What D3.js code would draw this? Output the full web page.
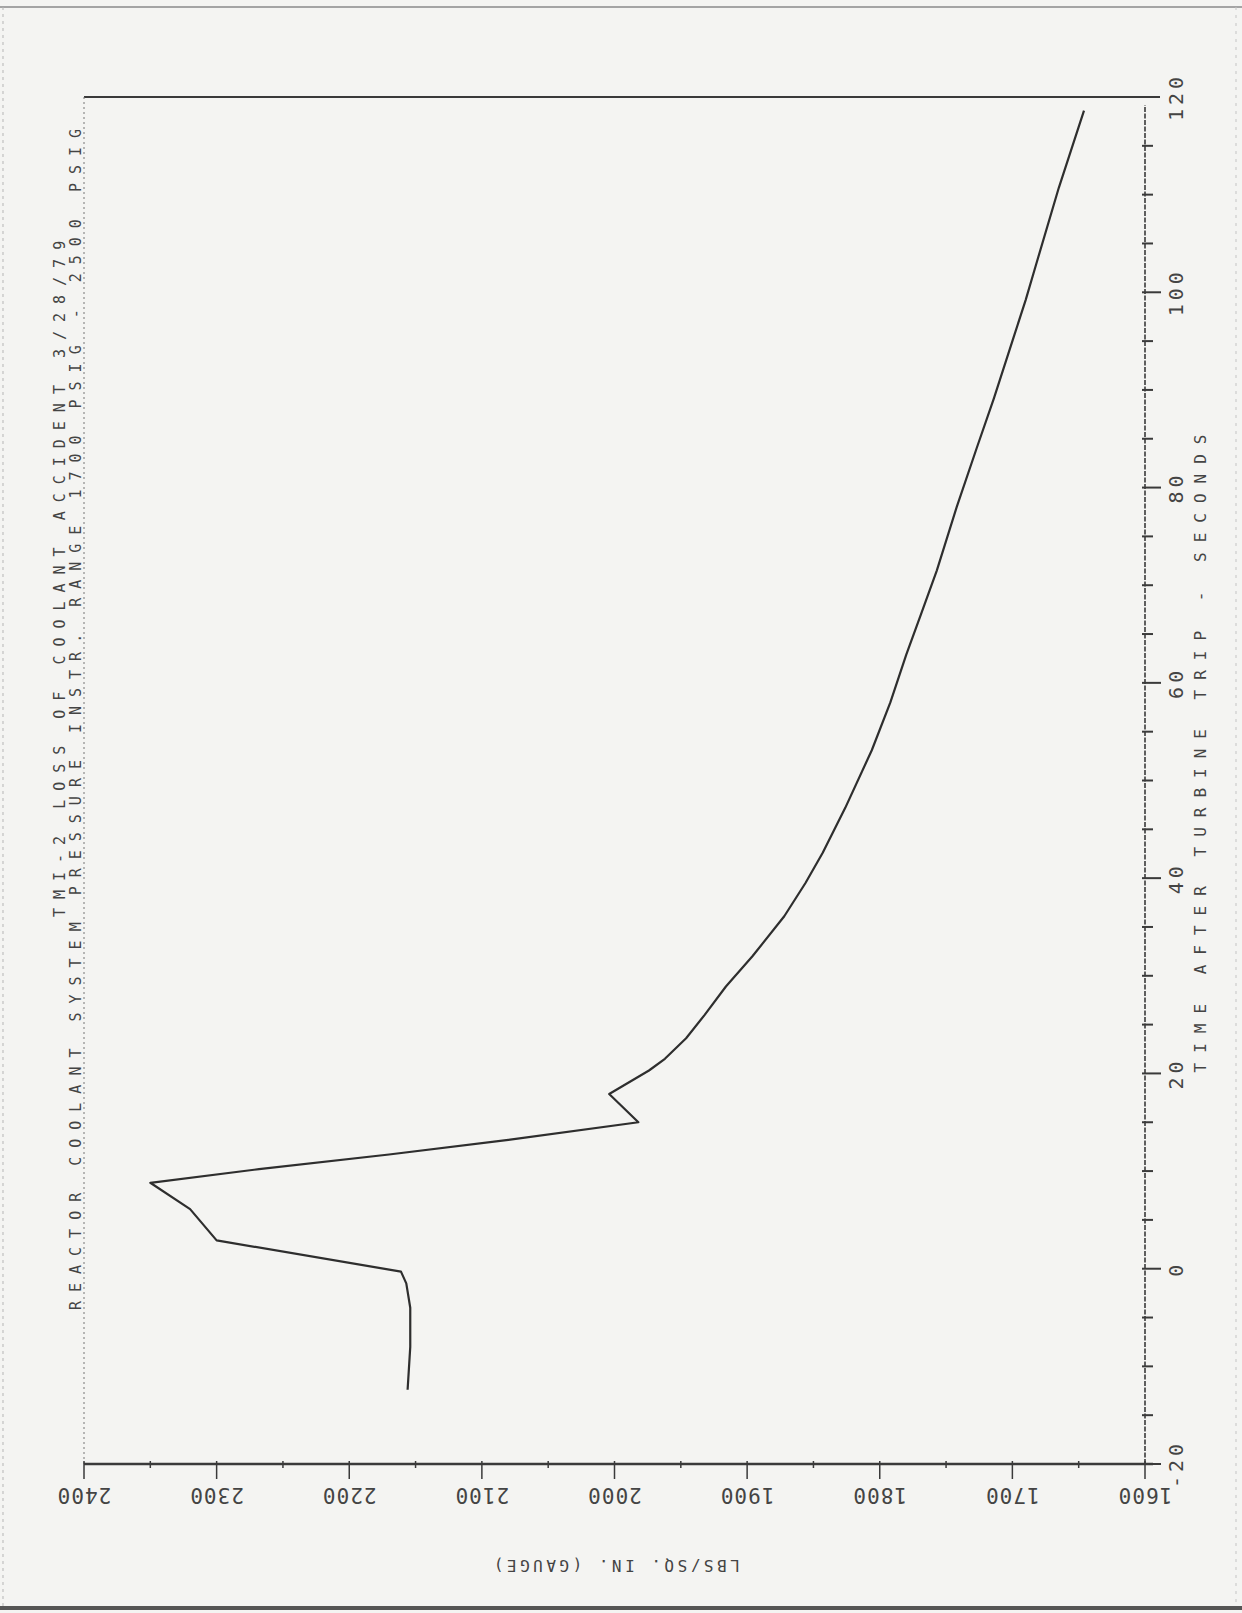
<!DOCTYPE html>
<html>
<head>
<meta charset="utf-8">
<script src="https://cdn.jsdelivr.net/npm/d3@7"></script>
<style>
  body { margin: 0; background: #f4f4f2; }
  svg text { font-family: "DejaVu Sans Mono", monospace; fill: #444; }
</style>
</head>
<body>
<svg id="chart" width="1242" height="1613"></svg>
<script>
// TMI-2 reactor coolant pressure vs time after turbine trip
// (the plotter sheet is turned on its side: time runs up, pressure runs right-to-left)

const timeSec = [-12.4, -8, -4, -1.5, -0.3, 2.9, 6.1, 8.8, 10.2, 11.7, 13.2, 15.0,
  17.9, 20.3, 21.5, 23.6, 26, 28.9, 32, 36.1, 39.5, 42.6, 47.2, 53.1, 58, 62.9,
  67, 71.5, 78, 84, 89.1, 95, 99.2, 102.9, 110.7, 118.6];
const pressurePsig = [2156, 2154, 2154, 2157, 2161, 2300, 2320, 2350, 2268, 2170, 2080, 1982,
  2004, 1974, 1962, 1946, 1932, 1916, 1896, 1872, 1856, 1843, 1826, 1806, 1792, 1780,
  1769, 1757, 1742, 1727, 1714, 1700, 1690, 1682, 1665, 1646];

const timeTicks = [-20, 0, 20, 40, 60, 80, 100, 120];
const pressureTicks = [2400, 2300, 2200, 2100, 2000, 1900, 1800, 1700, 1600];

const titleLine1 = "TMI-2 LOSS OF COOLANT ACCIDENT  3/28/79";
const titleLine2 = "REACTOR COOLANT SYSTEM PRESSURE  INSTR. RANGE 1700 PSIG - 2500 PSIG";
const timeLabel = "TIME AFTER TURBINE TRIP - SECONDS";
const pressureLabel = "LBS/SQ. IN. (GAUGE)";

const svg = d3.select("#chart");
const ink = "#3a3a3a";

// frame of the plot on the page
const pLeft = 84, pRight = 1145, pTop = 97, pBottom = 1464;

const x = d3.scaleLinear().domain([2400, 1600]).range([pLeft, pRight]);
const y = d3.scaleLinear().domain([-20, 120]).range([pBottom, pTop]);

// scan edges of the sheet
svg.append("line").attr("x1", 0).attr("x2", 1242).attr("y1", 7).attr("y2", 7)
  .attr("stroke", "#8a8a8a").attr("stroke-width", 1.5);
svg.append("line").attr("x1", 3).attr("x2", 3).attr("y1", 7).attr("y2", 1606)
  .attr("stroke", "#b5b5b5").attr("stroke-dasharray", "3 4");
svg.append("line").attr("x1", 1236).attr("x2", 1236).attr("y1", 7).attr("y2", 1606)
  .attr("stroke", "#c4c4c4").attr("stroke-dasharray", "3 5");
svg.append("line").attr("x1", 0).attr("x2", 1242).attr("y1", 1608).attr("y2", 1608)
  .attr("stroke", "#555").attr("stroke-width", 4);

// top border (t = 120) and left border (2400 psig)
svg.append("line").attr("x1", pLeft).attr("x2", pRight + 15).attr("y1", y(120)).attr("y2", y(120))
  .attr("stroke", ink).attr("stroke-width", 2.2);
svg.append("line").attr("x1", pLeft).attr("x2", pLeft).attr("y1", pTop).attr("y2", pBottom)
  .attr("stroke", "#777").attr("stroke-width", 1).attr("stroke-dasharray", "2 3");

// pressure axis along the bottom
const gx = svg.append("g").attr("transform", "translate(0," + pBottom + ")");
gx.append("line").attr("x1", pLeft).attr("x2", pRight + 8)
  .attr("stroke", ink).attr("stroke-width", 2.4);
gx.selectAll(".minor").data(d3.range(2350, 1600, -100)).join("line")
  .attr("x1", d => x(d)).attr("x2", d => x(d)).attr("y1", -3).attr("y2", 4)
  .attr("stroke", ink).attr("stroke-width", 1.5);
gx.selectAll(".major").data(pressureTicks).join("line")
  .attr("x1", d => x(d)).attr("x2", d => x(d)).attr("y1", -3).attr("y2", 15)
  .attr("stroke", ink).attr("stroke-width", 1.5);
gx.selectAll("text").data(pressureTicks).join("text")
  .attr("transform", d => "translate(" + x(d) + ",31) rotate(180)")
  .attr("text-anchor", "middle").attr("dominant-baseline", "central")
  .attr("font-size", 21).attr("letter-spacing", 1)
  .text(d => d);

svg.append("text")
  .attr("transform", "translate(615,1565) rotate(180)")
  .attr("text-anchor", "middle").attr("dominant-baseline", "central")
  .attr("font-size", 16).attr("letter-spacing", 3.5)
  .text(pressureLabel);

// time axis on the right
const gy = svg.append("g").attr("transform", "translate(" + pRight + ",0)");
gy.append("line").attr("y1", pBottom).attr("y2", pTop + 8)
  .attr("stroke", ink).attr("stroke-width", 1.6).attr("stroke-dasharray", "5 1.5");
gy.selectAll(".minor").data(d3.range(-15, 120, 5).filter(d => d % 20 != 0)).join("line")
  .attr("y1", d => y(d)).attr("y2", d => y(d)).attr("x1", -3).attr("x2", 8)
  .attr("stroke", ink).attr("stroke-width", 2);
gy.selectAll(".major").data(timeTicks.filter(d => d < 120)).join("line")
  .attr("y1", d => y(d)).attr("y2", d => y(d)).attr("x1", -3).attr("x2", 16)
  .attr("stroke", ink).attr("stroke-width", 2);
gy.selectAll("text").data(timeTicks).join("text")
  .attr("transform", d => "translate(31," + y(d) + ") rotate(-90)")
  .attr("text-anchor", "middle").attr("dominant-baseline", "central")
  .attr("font-size", 20).attr("letter-spacing", 4)
  .text(d => d);

svg.append("text")
  .attr("transform", "translate(1200," + ((1072 + 425) / 2) + ") rotate(-90)")
  .attr("text-anchor", "middle").attr("dominant-baseline", "central")
  .attr("font-size", 16).attr("letter-spacing", 10)
  .text(timeLabel);

// titles, written up the left side
svg.append("text")
  .attr("transform", "translate(60,917) rotate(-90)")
  .attr("dominant-baseline", "central")
  .attr("font-size", 15).attr("letter-spacing", 9)
  .text(titleLine1);
svg.append("text")
  .attr("transform", "translate(76,1310) rotate(-90)")
  .attr("dominant-baseline", "central")
  .attr("font-size", 15).attr("letter-spacing", 9)
  .text(titleLine2);

// the pressure trace
const line = d3.line()
  .x(d => x(d[1]))
  .y(d => y(d[0]));

svg.append("path")
  .datum(d3.zip(timeSec, pressurePsig))
  .attr("d", line)
  .attr("fill", "none")
  .attr("stroke", "#2e2e2e")
  .attr("stroke-width", 2.2)
  .attr("stroke-linejoin", "round");
</script>
</body>
</html>
